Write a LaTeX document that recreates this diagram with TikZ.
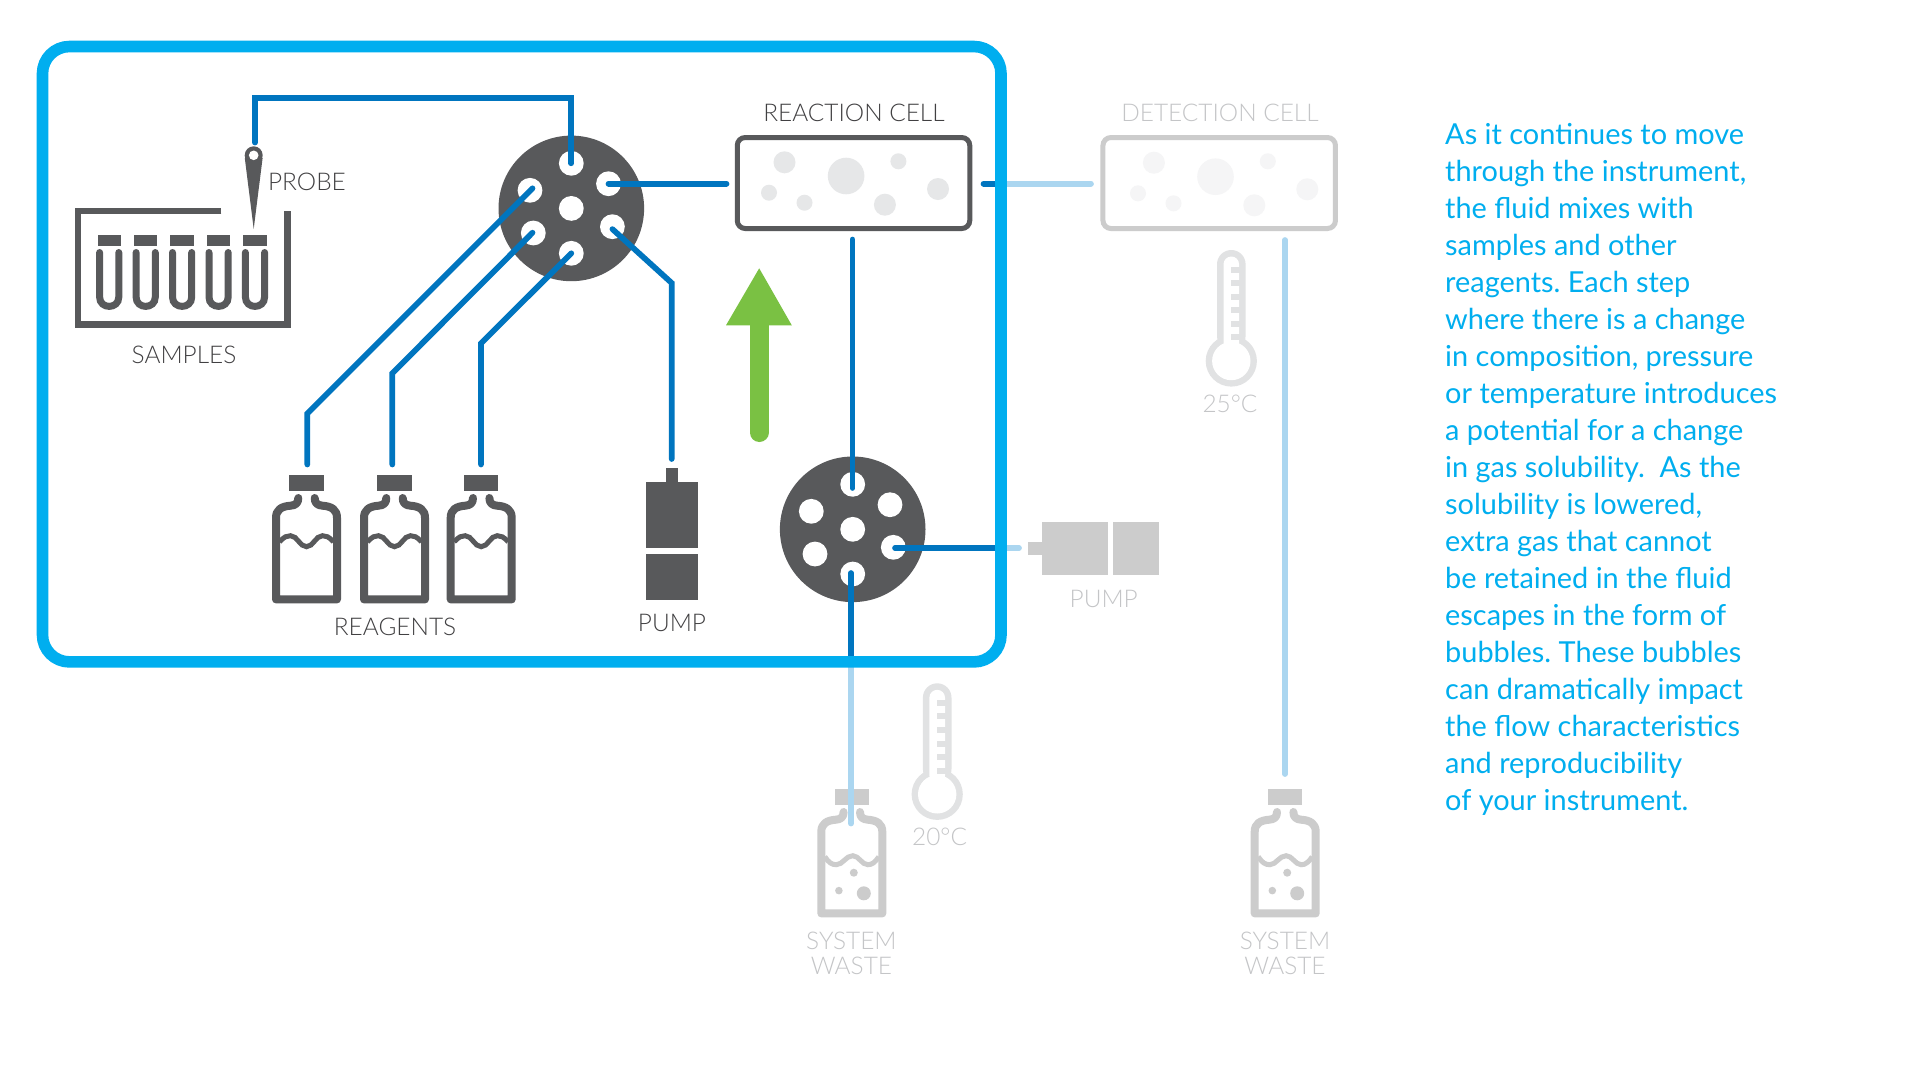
\documentclass[tikz,border=0pt]{standalone}
\usepackage{fontspec}
\setmainfont{Lato}
\newfontfamily\labelfont{Lato Light}
\definecolor{ink}{HTML}{58595B}
\definecolor{labelink}{HTML}{414042}
\definecolor{dim}{HTML}{CCCCCC}
\definecolor{dimtext}{HTML}{C4C5C7}
\definecolor{pipe}{HTML}{0075BF}
\definecolor{pipelight}{HTML}{ABD6F0}
\definecolor{frameblue}{HTML}{00AEEF}
\definecolor{leaf}{HTML}{7AC143}
\definecolor{bubble}{HTML}{E6E7E8}
\definecolor{bubblelight}{HTML}{F5F5F6}
\definecolor{gauge}{HTML}{E1E2E3}
\tikzset{
  lbl/.style={font=\labelfont\fontsize{24.4}{25}\selectfont, text=labelink, inner sep=0pt, align=center},
  lbldim/.style={lbl, text=dimtext},
  valve/.style={circle, fill=ink, minimum size=145.6pt, inner sep=0pt, outer sep=0pt},
  porthole/.style={circle, fill=white, minimum size=24.8pt, inner sep=0pt, outer sep=0pt},
  cell/.style={draw=#1, line width=5pt, rounded corners=8pt, fill=white, minimum width=232.5pt, minimum height=91pt, inner sep=0pt},
  tubing/.style={draw=pipe, line width=5.7pt, line cap=round, line join=miter},
  tubinglight/.style={draw=pipelight, line width=5.7pt, line cap=round, line join=miter},
  blockpart/.style={fill=#1, inner sep=0pt, outer sep=0pt},
}
% bottle outline: x, y of the cap's top centre, colour
\newcommand\flaskbody[3]{
  \begin{scope}[shift={(#1,#2)}]
    \fill[#3] (-17.2,0) rectangle (17.2,16);
    \draw[#3, line width=8pt, line cap=round, line join=round]
      (-8.2,23.3) .. controls (-8.2,28.5) and (-11,30.6) .. (-16,31)
      .. controls (-25,31.6) and (-30.5,35) .. (-30.5,43)
      -- (-30.5,124.7) -- (30.5,124.7) -- (30.5,43)
      .. controls (30.5,35) and (25,31.6) .. (16,31)
      .. controls (11,30.6) and (8.2,28.5) .. (8.2,23.3);
  \end{scope}}
% reagent bottle with a two-crest liquid surface
\newcommand\reagentflask[2]{
  \flaskbody{#1}{#2}{ink}
  \begin{scope}[shift={(#1,#2)}]
    \draw[ink, line width=5pt]
      (-27,67) .. controls (-22,62) and (-20,61) .. (-16,61)
      .. controls (-9,61) and (-7,72) .. (0,72)
      .. controls (7,72) and (9,61) .. (16,61)
      .. controls (20,61) and (22,62) .. (27,67);
  \end{scope}}
% waste bottle with a one-crest liquid surface and bubbles
\newcommand\wasteflask[2]{
  \flaskbody{#1}{#2}{dim}
  \begin{scope}[shift={(#1,#2)}]
    \draw[dim, line width=5pt]
      (-27,68) .. controls (-23,74) and (-20,76) .. (-15.4,76)
      .. controls (-9,76) and (-6,67) .. (1,67)
      .. controls (7,67) and (10,76) .. (16,76)
      .. controls (20,76) and (23,74) .. (27,68);
    \fill[dim] (2,84) circle[radius=4];
    \fill[dim] (-12.9,101.9) circle[radius=3.8];
    \fill[dim] (12,104.6) circle[radius=7];
  \end{scope}}
% thermometer: centre x, top y
\newcommand\gaugeglass[2]{
  \begin{scope}[shift={(#1,#2)}]
    \fill[gauge, rounded corners=14.3pt] (-14.3,100) -- (-14.3,0) -- (14.3,0) -- (14.3,100) -- cycle;
    \fill[gauge] (0,111) circle[radius=25.6];
    \fill[white, rounded corners=7.8pt] (-7.8,100) -- (-7.8,6.5) -- (7.8,6.5) -- (7.8,100) -- cycle;
    \fill[white] (0,111) circle[radius=19.2];
    \foreach \ty in {16.5,30,43.6,57.2,70.8,84.4}
      \fill[gauge] (-0.5,\ty) rectangle (9,\ty+6);
  \end{scope}}
% sample vial: centre x
\newcommand\vial[1]{
  \fill[ink] (#1-11.7,235.3) rectangle (#1+11.7,245.7);
  \draw[ink, line width=7pt, line cap=round]
    (#1-9.6,252.5) -- (#1-9.6,297) .. controls (#1-9.6,309.5) and (#1+9.6,309.5) .. (#1+9.6,297) -- (#1+9.6,252.5);}
\begin{document}
\begin{tikzpicture}[x=1pt,y=-1pt]
\useasboundingbox (0,0) rectangle (1920,1080);
\fill[white] (0,0) rectangle (1920,1080);

% grey downstream flasks and hardware sit beneath the tubing
\wasteflask{851.8}{788.7}
\wasteflask{1285.2}{788.7}
\gaugeglass{1231.3}{250}
\gaugeglass{937.2}{683.3}
\fill[dim] (1027.7,541.7) rectangle (1041.7,555);
\fill[dim] (1041.7,522.3) rectangle (1107.7,574.7);
\fill[dim] (1113.3,522.3) rectangle (1159.3,574.7);

% valves with their ports
\node[valve] (vA) at (571.3,208.4) {};
\node[porthole] (vAc) at (571.3,208.4) {};
\node[porthole] (vAn) at (571.3,163.3) {};
\node[porthole] (vAne) at (608.5,183.7) {};
\node[porthole] (vAse) at (612.4,226.7) {};
\node[porthole] (vAs) at (571.3,253.3) {};
\node[porthole] (vAsw) at (533.3,233) {};
\node[porthole] (vAnw) at (530,190.3) {};

\node[valve] (vB) at (852.7,529.3) {};
\node[porthole] (vBc) at (852.7,529.3) {};
\node[porthole] (vBn) at (852.7,484.3) {};
\node[porthole] (vBne) at (890,504.7) {};
\node[porthole] (vBse) at (893.3,547.3) {};
\node[porthole] (vBs) at (852.7,574) {};
\node[porthole] (vBsw) at (815,554) {};
\node[porthole] (vBnw) at (811.3,511.3) {};

% cells
\node[cell=ink] (reaction) at (853.5,183) {};
\node[cell=dim] (detection) at (1219.2,183) {};
\foreach \bx/\by/\br in {784.5/162.3/11, 846.1/176/18.3, 898.4/161.3/8, 769/192.7/8, 804.5/202.7/8, 884.9/204.7/11, 938/189/11}
  \fill[bubble] (\bx,\by) circle[radius=\br];
\foreach \bx/\by/\br in {1153.9/162.7/11, 1215.5/176.7/18.3, 1267.8/161.3/8, 1138/193.3/8, 1173.5/203.3/8, 1254.3/205.3/11, 1307.3/189.3/11}
  \fill[bubblelight] (\bx,\by) circle[radius=\br];

% sample tray, vials and probe
\draw[ink, line width=6.6pt, line join=miter] (221.3,211) -- (77.9,211) -- (77.9,324.6) -- (287.3,324.6) -- (287.3,211);
\vial{109.2}
\vial{145.7}
\vial{182.1}
\vial{218.6}
\vial{255}
\fill[ink] (244.8,158) -- (253.7,229) -- (262.6,158) -- cycle;
\fill[ink] (253.7,155.3) circle[radius=9];
\fill[white] (253.7,155.3) circle[radius=4.8];
\coordinate (probeTop) at (255,142.5);
\coordinate (probeBend) at (255,97.7);
\coordinate (portBend) at (571.3,97.7);

% reagent bottles and first pump
\reagentflask{306.5}{474.7}
\reagentflask{394.5}{474.7}
\reagentflask{481.2}{474.7}
\node[blockpart=ink, minimum width=52.6pt, minimum height=65.7pt] (pumpUpper) at (672,515.15) {};
\node[blockpart=ink, minimum width=52.6pt, minimum height=46pt] (pumpLower) at (672,577) {};
\fill[ink] (665.7,468.3) rectangle (678.3,483);

% pale continuation of the fluid path
\coordinate (detIn) at (1091,183.7);
\coordinate (reactOut) at (983.5,183.7);
\coordinate (pumpIn) at (1019,548);
\coordinate (wasteInner) at (851,823.5);
\coordinate (detOutTop) at (1284.9,240);
\coordinate (detOutEnd) at (1284.9,774);
\coordinate (frameEast) at (1001,548);
\coordinate (frameSouth) at (851,662);
\coordinate (frameEastTop) at (1001,183.7);
\draw[tubinglight] (frameEastTop) -- (detIn);
\draw[tubinglight] (frameEast) -- (pumpIn);
\draw[tubinglight] (frameSouth) -- (wasteInner);
\draw[tubinglight] (detOutTop) -- (detOutEnd);

% dark tubing
\coordinate (r1bend) at (307.3,413.5);
\coordinate (r1end) at (307.3,464.5);
\coordinate (r2bend) at (392.3,373.3);
\coordinate (r2end) at (392.3,464.5);
\coordinate (r3bend) at (481,343.3);
\coordinate (r3end) at (481,464.5);
\coordinate (p1bend) at (671.7,283);
\coordinate (p1end) at (671.7,459);
\coordinate (cellLeftEnd) at (726.5,183.7);
\coordinate (cellBottom) at (852.5,239.5);
\coordinate (vBtop) at (852.5,488);
\coordinate (vBbot) at (851,573);
\coordinate (vBright) at (895,548);
\draw[tubing] (probeTop) -- (probeBend) -- (portBend) -- (vAn.center);
\draw[tubing] ([shift={(2.5,-2)}]vAnw.center) -- (r1bend) -- (r1end);
\draw[tubing] ([shift={(-0.8,-0.3)}]vAsw.center) -- (r2bend) -- (r2end);
\draw[tubing] (vAs.center) -- (r3bend) -- (r3end);
\draw[tubing] ([yshift=-2.4]vAse.center) -- (p1bend) -- (p1end);
\draw[tubing] (vAne.center) -- (cellLeftEnd);
\draw[tubing] (reactOut) -- (frameEastTop);
\draw[tubing] (cellBottom) -- (vBtop);
\draw[tubing] (vBright) -- (frameEast);
\draw[tubing] (vBbot) -- (frameSouth);

% highlight frame
\draw[frameblue, line width=11.6pt, rounded corners=27pt] (42.5,46.5) rectangle (1001,661.9);

% direction arrow
\fill[leaf] (759.2,268.3) -- (791.8,325.3) -- (726,325.3) -- cycle;
\draw[leaf, line width=18.8pt, line cap=round] (759.2,324) -- (759.2,432.6);

% labels
\node[lbl] (tProbe) at (307,182) {PROBE};
\node[lbl] (tSamples) at (184,355) {SAMPLES};
\node[lbl] (tReagents) at (395,627) {REAGENTS};
\node[lbl] (tPump) at (672,622.5) {PUMP};
\node[lbl] (tReaction) at (854,113) {REACTION CELL};
\node[lbldim] (tDetection) at (1220,113) {DETECTION CELL};
\node[lbldim] (tPumpB) at (1103.7,599) {PUMP};
\node[lbldim] (t25) at (1230,403.5) {25°C};
\node[lbldim] (t20) at (939.6,836.5) {20°C};
\node[lbldim, anchor=north] (tWasteA) at (851.4,931.7) {SYSTEM\\WASTE};
\node[lbldim, anchor=north] (tWasteB) at (1285,931.7) {SYSTEM\\WASTE};

\node[anchor=north west, inner sep=0pt, align=left, text=frameblue, font=\frenchspacing\fontsize{28.9}{37}\selectfont] (story) at (1445,123.3) {As it continues to move\\
through the instrument,\\
the fluid mixes with\\
samples and other\\
reagents. Each step\\
where there is a change\\
in composition, pressure\\
or temperature introduces\\
a potential for a change\\
in gas solubility.\ \ As the\\
solubility is lowered,\\
extra gas that cannot\\
be retained in the fluid\\
escapes in the form of\\
bubbles. These bubbles\\
can dramatically impact\\
the flow characteristics\\
and reproducibility\\
of your instrument.};
\end{tikzpicture}
\end{document}
